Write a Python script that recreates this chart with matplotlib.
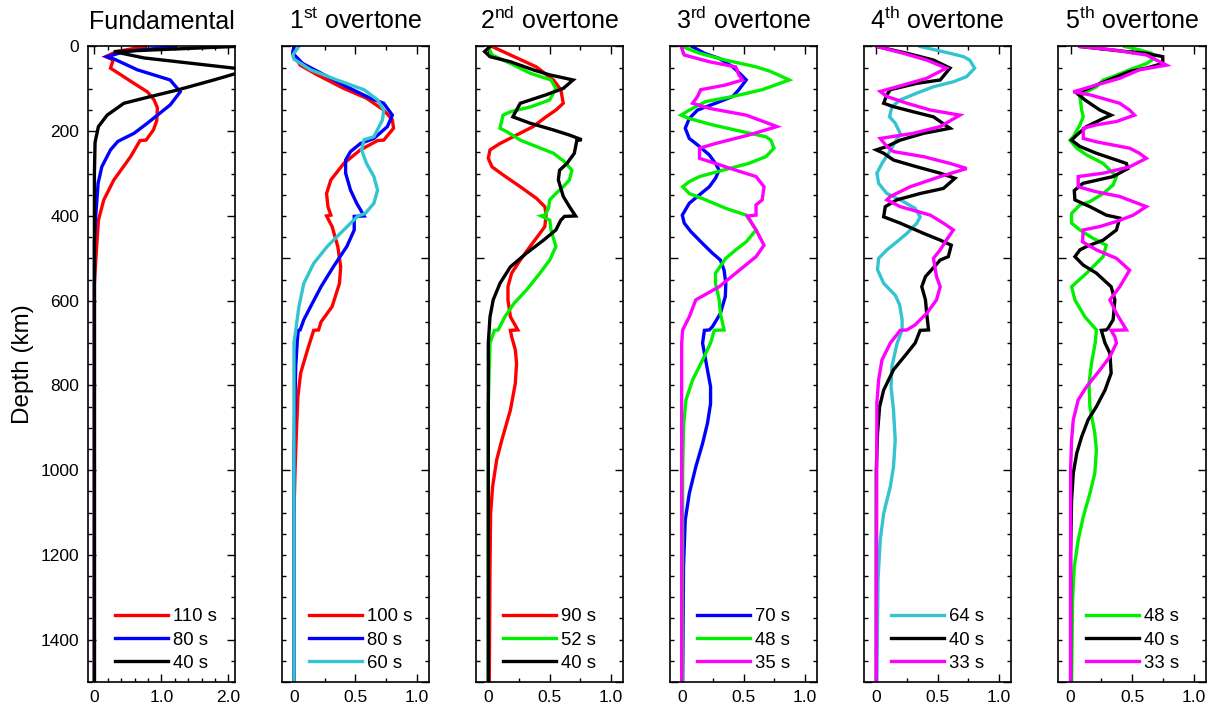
import numpy as np
import matplotlib
matplotlib.use("Agg")
import matplotlib.pyplot as plt
from matplotlib.ticker import MultipleLocator, FixedLocator, FixedFormatter

plt.rcParams['font.family'] = ['Liberation Sans', 'DejaVu Sans']
plt.rcParams['mathtext.fontset'] = 'custom'
plt.rcParams['mathtext.rm'] = 'Liberation Sans'
plt.rcParams['mathtext.it'] = 'Liberation Sans:italic'

# colours
RED = '#ff0000'
BLUE = '#0000ff'
BLACK = '#000000'
CYAN = '#33c4d0'
GREEN = '#00f000'
MAGENTA = '#ff00ff'

# ---- Fundamental ----
f110_z = [0, 12, 24, 32, 51, 87, 107, 126, 145, 175, 197, 221, 222, 260, 315, 362, 410, 480, 560, 1500]
f110_a = [0.76, 0.33, 0.17, 0.28, 0.24, 0.59, 0.79, 0.89, 0.94, 0.93, 0.88, 0.77, 0.68, 0.54, 0.29, 0.14, 0.06, 0.03, 0.0, 0.0]
f80_z = [0, 12, 24, 30, 55, 79, 107, 138, 181, 205, 220, 224, 244, 284, 323, 400, 460, 1500]
f80_a = [1.21, 0.45, 0.19, 0.30, 0.64, 1.13, 1.28, 1.13, 0.79, 0.59, 0.40, 0.35, 0.24, 0.11, 0.055, 0.02, 0.0, 0.0]
f40_z = [0, 12, 27, 55, 79, 103, 118, 134, 162, 189, 226, 300, 1500]
f40_a = [2.08, 0.29, 0.74, 2.3, 1.78, 1.23, 0.84, 0.44, 0.19, 0.06, 0.01, 0.0, 0.0]

# ---- 1st overtone ----
o1_100_z = [0, 16, 44, 67, 99, 122, 150, 173, 193, 221, 222, 244, 276, 315, 347, 378, 398, 400, 425, 473, 520, 559, 614, 650, 669, 670, 716, 771, 826, 913, 1007, 1100, 1500]
o1_100_a = [0, -0.01, 0.05, 0.19, 0.405, 0.59, 0.73, 0.80, 0.81, 0.73, 0.68, 0.54, 0.405, 0.30, 0.265, 0.276, 0.30, 0.265, 0.31, 0.357, 0.38, 0.37, 0.31, 0.22, 0.20, 0.16, 0.11, 0.054, 0.032, 0.019, 0.008, 0.0, 0.0]
o1_80_z = [0, 16, 40, 63, 95, 122, 134, 162, 189, 217, 229, 248, 268, 299, 339, 370, 400, 401, 433, 472, 520, 567, 614, 645, 669, 670, 694, 755, 834, 950, 1500]
o1_80_a = [0, -0.01, 0.07, 0.22, 0.43, 0.62, 0.73, 0.80, 0.76, 0.65, 0.54, 0.46, 0.42, 0.42, 0.46, 0.51, 0.57, 0.49, 0.49, 0.43, 0.32, 0.22, 0.135, 0.08, 0.05, 0.035, 0.027, 0.014, 0.008, 0.0, 0.0]
o1_60_z = [0, 20, 30, 55, 79, 102, 126, 150, 173, 213, 220, 244, 276, 307, 339, 370, 394, 400, 433, 472, 512, 559, 614, 670, 700, 1500]
o1_60_a = [0.04, -0.01, 0.0, 0.135, 0.35, 0.57, 0.68, 0.73, 0.72, 0.65, 0.57, 0.55, 0.59, 0.65, 0.68, 0.65, 0.58, 0.52, 0.405, 0.27, 0.16, 0.08, 0.04, 0.014, 0.0, 0.0]

# ---- 2nd overtone ----
o2_90_z = [0, 20, 48, 79, 102, 134, 150, 166, 189, 209, 229, 244, 264, 284, 303, 331, 358, 378, 398, 425, 441, 472, 504, 535, 567, 598, 638, 669, 670, 685, 716, 748, 795, 858, 929, 976, 1039, 1102, 1228, 1500]
o2_90_a = [0.03, 0.18, 0.39, 0.53, 0.59, 0.61, 0.55, 0.47, 0.365, 0.23, 0.095, 0.014, 0.0, 0.03, 0.12, 0.26, 0.39, 0.46, 0.47, 0.46, 0.42, 0.34, 0.26, 0.19, 0.16, 0.16, 0.18, 0.24, 0.18, 0.19, 0.22, 0.23, 0.22, 0.18, 0.11, 0.068, 0.035, 0.019, 0.014, 0.008]
o2_52_z = [0, 20, 40, 63, 79, 99, 126, 142, 154, 162, 193, 201, 221, 236, 252, 272, 292, 315, 331, 347, 362, 382, 398, 400, 410, 433, 472, 504, 535, 575, 606, 638, 669, 670, 700, 755, 850, 1500]
o2_52_a = [0.0, 0.03, 0.18, 0.34, 0.51, 0.55, 0.50, 0.35, 0.18, 0.12, 0.095, 0.15, 0.26, 0.39, 0.53, 0.62, 0.68, 0.66, 0.61, 0.55, 0.50, 0.49, 0.46, 0.43, 0.50, 0.51, 0.55, 0.50, 0.42, 0.31, 0.21, 0.135, 0.08, 0.05, 0.014, 0.008, 0.0, 0.0]
o2_40_z = [0, 12, 24, 36, 55, 67, 79, 99, 114, 134, 150, 166, 181, 197, 209, 220, 222, 252, 276, 292, 315, 354, 378, 400, 401, 410, 433, 457, 488, 520, 559, 598, 638, 700, 1500]
o2_40_a = [0.014, -0.03, 0.014, 0.18, 0.365, 0.50, 0.69, 0.61, 0.47, 0.26, 0.23, 0.20, 0.34, 0.53, 0.66, 0.76, 0.72, 0.70, 0.64, 0.58, 0.57, 0.61, 0.66, 0.71, 0.62, 0.59, 0.55, 0.45, 0.31, 0.18, 0.095, 0.04, 0.014, 0.0, 0.0]

# ---- 3rd overtone ----
o3_70_z = [0, 16, 28, 48, 67, 79, 102, 118, 134, 150, 170, 193, 217, 236, 256, 276, 292, 311, 331, 350, 370, 398, 417, 437, 465, 488, 504, 528, 559, 590, 630, 661, 669, 670, 700, 740, 803, 843, 889, 937, 992, 1055, 1118, 1228, 1500]
o3_70_a = [0.08, 0.18, 0.30, 0.41, 0.48, 0.52, 0.46, 0.41, 0.27, 0.124, 0.057, 0.024, 0.057, 0.14, 0.22, 0.27, 0.30, 0.27, 0.22, 0.14, 0.057, 0.0, 0.016, 0.07, 0.165, 0.246, 0.31, 0.34, 0.354, 0.35, 0.31, 0.246, 0.22, 0.18, 0.165, 0.19, 0.23, 0.23, 0.205, 0.165, 0.11, 0.057, 0.024, 0.01, 0.003]
o3_48_z = [0, 16, 32, 48, 59, 79, 102, 118, 130, 150, 162, 170, 185, 201, 213, 221, 240, 260, 276, 292, 307, 319, 331, 347, 362, 382, 398, 433, 461, 480, 500, 535, 559, 598, 630, 669, 670, 700, 740, 787, 834, 897, 1000, 1500]
o3_48_a = [0.0, 0.14, 0.35, 0.60, 0.72, 0.87, 0.65, 0.41, 0.19, 0.057, -0.01, 0.057, 0.246, 0.49, 0.68, 0.72, 0.746, 0.68, 0.54, 0.33, 0.14, 0.057, 0.003, 0.057, 0.19, 0.354, 0.52, 0.60, 0.52, 0.435, 0.354, 0.27, 0.27, 0.30, 0.31, 0.34, 0.26, 0.23, 0.165, 0.084, 0.03, 0.01, 0.003, 0.0]
o3_35_z = [0, 20, 36, 48, 67, 79, 91, 102, 118, 134, 146, 162, 189, 209, 229, 240, 264, 276, 292, 307, 331, 362, 374, 398, 400, 433, 469, 496, 535, 567, 598, 638, 669, 700, 1500]
o3_35_a = [-0.01, 0.016, 0.22, 0.435, 0.46, 0.49, 0.35, 0.15, 0.124, 0.084, 0.22, 0.52, 0.77, 0.54, 0.27, 0.14, 0.14, 0.27, 0.435, 0.60, 0.665, 0.65, 0.60, 0.60, 0.53, 0.60, 0.665, 0.60, 0.435, 0.30, 0.11, 0.057, 0.003, -0.005, -0.005]

# ---- 4th overtone ----
o4_64_z = [0, 16, 24, 32, 51, 71, 83, 95, 110, 126, 142, 166, 181, 205, 232, 252, 276, 299, 323, 347, 362, 382, 402, 417, 441, 461, 480, 500, 527, 559, 587, 610, 645, 669, 700, 755, 803, 858, 929, 992, 1039, 1102, 1165, 1259, 1500]
o4_64_a = [0.357, 0.60, 0.71, 0.76, 0.80, 0.735, 0.63, 0.465, 0.33, 0.195, 0.127, 0.108, 0.154, 0.195, 0.14, 0.10, 0.046, 0.005, 0.019, 0.086, 0.195, 0.316, 0.357, 0.33, 0.25, 0.167, 0.086, 0.019, 0.01, 0.06, 0.154, 0.19, 0.21, 0.21, 0.17, 0.127, 0.12, 0.14, 0.154, 0.14, 0.114, 0.06, 0.032, 0.014, 0.005]
o4_40_z = [0, 16, 32, 51, 79, 87, 102, 114, 134, 142, 154, 166, 193, 205, 221, 236, 244, 252, 268, 284, 299, 311, 335, 347, 362, 378, 402, 417, 441, 457, 469, 496, 504, 527, 543, 567, 598, 630, 669, 670, 700, 724, 763, 811, 850, 913, 1000, 1500]
o4_40_a = [0.005, 0.25, 0.465, 0.60, 0.52, 0.33, 0.114, 0.086, 0.06, 0.14, 0.30, 0.465, 0.60, 0.384, 0.195, 0.086, 0.0, 0.06, 0.14, 0.33, 0.52, 0.64, 0.546, 0.357, 0.167, 0.073, 0.06, 0.195, 0.384, 0.52, 0.61, 0.586, 0.52, 0.45, 0.40, 0.37, 0.40, 0.41, 0.425, 0.357, 0.316, 0.25, 0.14, 0.06, 0.027, 0.01, 0.0, 0.0]
o4_33_z = [0, 16, 32, 51, 75, 91, 106, 118, 134, 150, 162, 189, 205, 217, 236, 248, 260, 276, 288, 307, 331, 354, 362, 378, 398, 417, 433, 457, 480, 500, 543, 567, 598, 630, 657, 669, 670, 700, 740, 787, 840, 1500]
o4_33_a = [0.005, 0.22, 0.41, 0.57, 0.41, 0.22, 0.032, 0.086, 0.25, 0.44, 0.68, 0.52, 0.30, 0.032, 0.086, 0.14, 0.384, 0.60, 0.735, 0.52, 0.276, 0.114, 0.086, 0.195, 0.44, 0.546, 0.627, 0.57, 0.52, 0.465, 0.49, 0.52, 0.49, 0.41, 0.316, 0.25, 0.195, 0.114, 0.046, 0.019, 0.005, 0.0]

# ---- 5th overtone ----
o5_48_z = [0, 8, 16, 28, 40, 55, 71, 79, 95, 107, 118, 150, 166, 185, 213, 221, 240, 256, 276, 307, 327, 347, 366, 374, 394, 417, 433, 453, 469, 496, 535, 567, 598, 638, 669, 700, 748, 795, 850, 913, 952, 1007, 1055, 1110, 1165, 1228, 1307, 1500]
o5_48_a = [0.44, 0.56, 0.66, 0.68, 0.62, 0.48, 0.346, 0.265, 0.21, 0.13, 0.076, 0.09, 0.103, 0.076, 0.022, -0.005, 0.05, 0.13, 0.265, 0.373, 0.346, 0.265, 0.157, 0.076, 0.008, 0.008, 0.076, 0.184, 0.29, 0.265, 0.13, 0.008, 0.035, 0.116, 0.21, 0.20, 0.17, 0.15, 0.157, 0.197, 0.21, 0.197, 0.157, 0.103, 0.062, 0.03, 0.016, 0.008]
o5_40_z = [0, 12, 16, 24, 40, 51, 59, 75, 91, 107, 110, 126, 150, 162, 170, 189, 209, 221, 236, 252, 268, 276, 288, 307, 323, 340, 362, 378, 398, 405, 433, 457, 472, 480, 496, 516, 535, 567, 598, 645, 665, 669, 670, 700, 724, 771, 811, 850, 881, 921, 960, 1007, 1071, 1200, 1500]
o5_40_a = [0.076, 0.454, 0.616, 0.75, 0.75, 0.616, 0.48, 0.346, 0.21, 0.076, 0.05, 0.116, 0.238, 0.33, 0.265, 0.13, 0.05, 0.008, 0.076, 0.21, 0.373, 0.454, 0.467, 0.346, 0.10, 0.03, 0.035, 0.157, 0.29, 0.40, 0.373, 0.265, 0.13, 0.076, 0.035, 0.103, 0.21, 0.33, 0.36, 0.346, 0.305, 0.29, 0.25, 0.28, 0.32, 0.33, 0.28, 0.21, 0.143, 0.09, 0.05, 0.022, 0.008, 0.0, 0.0]
o5_33_z = [0, 8, 20, 44, 55, 75, 91, 107, 114, 134, 150, 162, 177, 185, 193, 217, 225, 240, 252, 264, 284, 299, 307, 331, 343, 354, 378, 398, 413, 425, 433, 461, 480, 500, 528, 567, 598, 630, 669, 670, 685, 700, 732, 763, 803, 834, 881, 929, 1000, 1500]
o5_33_a = [0.076, 0.346, 0.616, 0.78, 0.56, 0.40, 0.21, 0.022, 0.157, 0.40, 0.48, 0.52, 0.373, 0.21, 0.103, 0.103, 0.21, 0.48, 0.56, 0.616, 0.48, 0.265, 0.062, 0.062, 0.21, 0.40, 0.616, 0.51, 0.373, 0.238, 0.103, 0.097, 0.21, 0.373, 0.48, 0.40, 0.32, 0.373, 0.454, 0.33, 0.36, 0.373, 0.32, 0.24, 0.13, 0.062, 0.022, 0.008, 0.0, 0.0]

titles = ['Fundamental', r'1$^{\rm st}$ overtone', r'2$^{\rm nd}$ overtone',
          r'3$^{\rm rd}$ overtone', r'4$^{\rm th}$ overtone', r'5$^{\rm th}$ overtone']

panels = [
    [(f110_a, f110_z, RED, '110 s'), (f80_a, f80_z, BLUE, '80 s'), (f40_a, f40_z, BLACK, '40 s')],
    [(o1_100_a, o1_100_z, RED, '100 s'), (o1_80_a, o1_80_z, BLUE, '80 s'), (o1_60_a, o1_60_z, CYAN, '60 s')],
    [(o2_90_a, o2_90_z, RED, '90 s'), (o2_52_a, o2_52_z, GREEN, '52 s'), (o2_40_a, o2_40_z, BLACK, '40 s')],
    [(o3_70_a, o3_70_z, BLUE, '70 s'), (o3_48_a, o3_48_z, GREEN, '48 s'), (o3_35_a, o3_35_z, MAGENTA, '35 s')],
    [(o4_64_a, o4_64_z, CYAN, '64 s'), (o4_40_a, o4_40_z, BLACK, '40 s'), (o4_33_a, o4_33_z, MAGENTA, '33 s')],
    [(o5_48_a, o5_48_z, GREEN, '48 s'), (o5_40_a, o5_40_z, BLACK, '40 s'), (o5_33_a, o5_33_z, MAGENTA, '33 s')],
]

W, H = 1212, 709
fig = plt.figure(figsize=(W / 100, H / 100), dpi=100)
lefts = [87.7, 281.7, 476, 670, 864, 1058.3]
ax_w, ax_top, ax_bot = 147.5, 46.5, 682

for i, left in enumerate(lefts):
    ax = fig.add_axes([left / W, (H - ax_bot) / H, ax_w / W, (ax_bot - ax_top) / H])
    for amp, z, col, lab in panels[i]:
        ax.plot(amp, z, color=col, lw=2.4, label=lab, solid_joinstyle='miter')
    ax.set_ylim(1500, 0)
    if i == 0:
        ax.set_xlim(-0.1, 2.1)
        ax.xaxis.set_major_locator(FixedLocator([0, 1, 2]))
        ax.xaxis.set_major_formatter(FixedFormatter(['0', '1.0', '2.0']))
        ax.xaxis.set_minor_locator(MultipleLocator(0.2))
        ax.yaxis.set_major_locator(MultipleLocator(200))
        ax.set_ylabel('Depth (km)', fontsize=17.5, labelpad=5)
    else:
        ax.set_xlim(-0.1, 1.1)
        ax.xaxis.set_major_locator(FixedLocator([0, 0.5, 1.0]))
        ax.xaxis.set_major_formatter(FixedFormatter(['0', '0.5', '1.0']))
        ax.xaxis.set_minor_locator(MultipleLocator(0.25))
        ax.yaxis.set_major_locator(MultipleLocator(500))
        ax.set_yticklabels([])
    ax.yaxis.set_minor_locator(MultipleLocator(50))
    ax.tick_params(which='both', direction='in', top=True, right=True, labelsize=12.5, width=1.0)
    ax.tick_params(which='major', length=6, pad=6)
    ax.tick_params(which='minor', length=3)
    for sp in ax.spines.values():
        sp.set_linewidth(1.2)
    ax.text(0.5, 1.028, titles[i], transform=ax.transAxes, ha='center', va='baseline', fontsize=18)
    ax.legend(loc='lower left', bbox_to_anchor=(0.185, 0.016), frameon=False, fontsize=13.3,
              handlelength=2.87, handletextpad=0.27, labelspacing=0.34, borderpad=0, borderaxespad=0)

fig.savefig('out.png', dpi=100)
